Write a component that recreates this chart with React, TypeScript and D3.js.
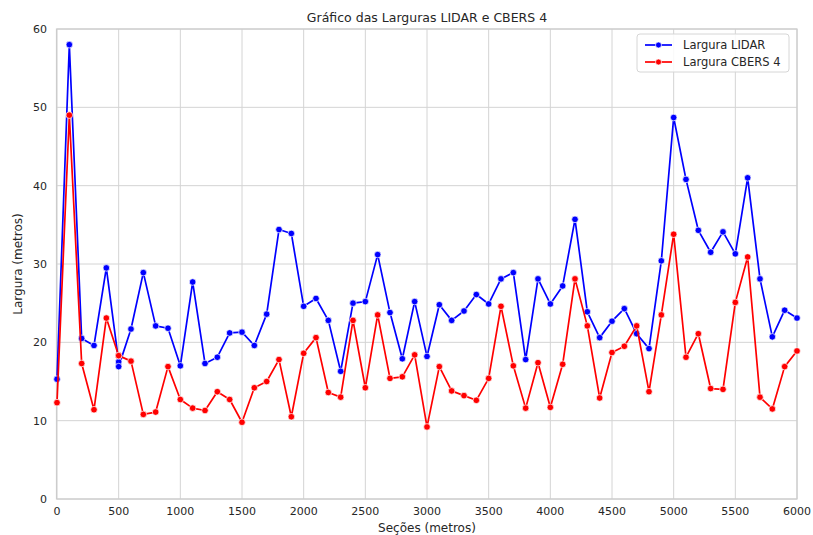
import * as d3 from 'd3';
import React, { useEffect, useRef } from 'react';

// Seções (metros) - há duas leituras em 500
const secoes = [
  0, 100, 200, 300, 400, 500, 500, 600, 700, 800, 900, 1000, 1100, 1200, 1300,
  1400, 1500, 1600, 1700, 1800, 1900, 2000, 2100, 2200, 2300, 2400, 2500, 2600,
  2700, 2800, 2900, 3000, 3100, 3200, 3300, 3400, 3500, 3600, 3700, 3800, 3900,
  4000, 4100, 4200, 4300, 4400, 4500, 4600, 4700, 4800, 4900, 5000, 5100, 5200,
  5300, 5400, 5500, 5600, 5700, 5800, 5900, 6000,
];

const larguraLidar = [
  15.3, 58.0, 20.5, 19.6, 29.5, 17.5, 16.9, 21.7, 28.9, 22.1, 21.8, 17.0, 27.7,
  17.3, 18.1, 21.2, 21.3, 19.6, 23.6, 34.4, 33.9, 24.6, 25.6, 22.8, 16.3, 25.0,
  25.2, 31.2, 23.8, 17.9, 25.2, 18.2, 24.8, 22.8, 24.0, 26.1, 24.9, 28.1, 28.9,
  17.8, 28.1, 24.9, 27.2, 35.7, 23.9, 20.6, 22.7, 24.3, 21.1, 19.2, 30.4, 48.7,
  40.8, 34.3, 31.5, 34.1, 31.3, 41.0, 28.1, 20.7, 24.1, 23.1,
];

const larguraCbers = [
  12.3, 49.0, 17.3, 11.4, 23.1, 18.3, 18.3, 17.6, 10.8, 11.1, 16.9, 12.7, 11.6,
  11.3, 13.7, 12.7, 9.8, 14.2, 15.0, 17.8, 10.5, 18.6, 20.6, 13.6, 13.0, 22.8,
  14.2, 23.5, 15.4, 15.6, 18.4, 9.2, 16.9, 13.8, 13.2, 12.6, 15.4, 24.6, 17.0,
  11.6, 17.4, 11.7, 17.2, 28.1, 22.1, 12.9, 18.7, 19.5, 22.1, 13.7, 23.5, 33.8,
  18.1, 21.1, 14.1, 14.0, 25.1, 30.9, 13.0, 11.5, 16.9, 18.9,
];

const xTicks = [0, 500, 1000, 1500, 2000, 2500, 3000, 3500, 4000, 4500, 5000, 5500, 6000];
const yTicks = [0, 10, 20, 30, 40, 50, 60];

const series = [
  { nome: 'Largura LIDAR', cor: 'blue', valores: larguraLidar },
  { nome: 'Largura CBERS 4', cor: 'red', valores: larguraCbers },
];

const App: React.FC = () => {
  const ref = useRef<SVGSVGElement | null>(null);

  useEffect(() => {
    if (!ref.current) return;
    const svg = d3.select(ref.current);
    svg.selectAll('*').remove();

    const W = 813;
    const H = 535;
    const margin = { top: 29, right: 16, bottom: 36, left: 57 };
    const font = 'DejaVu Sans, sans-serif';
    const textColor = '#262626';
    const gridColor = '#d4d4d4';

    const x = d3.scaleLinear().domain([0, 6000]).range([margin.left, W - margin.right]);
    const y = d3.scaleLinear().domain([0, 60]).range([H - margin.bottom, margin.top]);

    svg.append('rect').attr('width', W).attr('height', H).attr('fill', '#fff');

    // grade
    const grid = svg.append('g');
    grid
      .selectAll('line.vx')
      .data(xTicks)
      .enter()
      .append('line')
      .attr('x1', (d) => x(d))
      .attr('x2', (d) => x(d))
      .attr('y1', y(0))
      .attr('y2', y(60))
      .attr('stroke', gridColor)
      .attr('stroke-width', 1);
    grid
      .selectAll('line.hy')
      .data(yTicks)
      .enter()
      .append('line')
      .attr('x1', x(0))
      .attr('x2', x(6000))
      .attr('y1', (d) => y(d))
      .attr('y2', (d) => y(d))
      .attr('stroke', gridColor)
      .attr('stroke-width', 1);

    // moldura
    svg
      .append('rect')
      .attr('x', x(0) - 0.5)
      .attr('y', y(60))
      .attr('width', x(6000) - x(0) + 0.5)
      .attr('height', y(0) - y(60))
      .attr('fill', 'none')
      .attr('stroke', '#cccccc')
      .attr('stroke-width', 1.2);

    // rótulos dos ticks
    svg
      .append('g')
      .selectAll('text')
      .data(xTicks)
      .enter()
      .append('text')
      .attr('x', (d) => x(d))
      .attr('y', y(0) + 16)
      .attr('text-anchor', 'middle')
      .attr('font-family', font)
      .attr('font-size', 11)
      .attr('fill', textColor)
      .text((d) => d);

    svg
      .append('g')
      .selectAll('text')
      .data(yTicks)
      .enter()
      .append('text')
      .attr('x', x(0) - 10)
      .attr('y', (d) => y(d))
      .attr('dy', '0.35em')
      .attr('text-anchor', 'end')
      .attr('font-family', font)
      .attr('font-size', 11)
      .attr('fill', textColor)
      .text((d) => d);

    // linhas e marcadores
    series.forEach((s) => {
      const pts = secoes.map((sec, i) => [sec, s.valores[i]] as [number, number]);
      const line = d3
        .line<[number, number]>()
        .x((d) => x(d[0]))
        .y((d) => y(d[1]));
      svg
        .append('path')
        .datum(pts)
        .attr('fill', 'none')
        .attr('stroke', s.cor)
        .attr('stroke-width', 1.7)
        .attr('stroke-linejoin', 'round')
        .attr('d', line);
      svg
        .append('g')
        .selectAll('circle')
        .data(pts)
        .enter()
        .append('circle')
        .attr('cx', (d) => x(d[0]))
        .attr('cy', (d) => y(d[1]))
        .attr('r', 3.3)
        .attr('fill', s.cor)
        .attr('stroke', '#fff')
        .attr('stroke-width', 0.7);
    });

    // título e eixos
    svg
      .append('text')
      .attr('x', (x(0) + x(6000)) / 2)
      .attr('y', 22)
      .attr('text-anchor', 'middle')
      .attr('font-family', font)
      .attr('font-size', 12.5)
      .attr('fill', textColor)
      .text('Gráfico das Larguras LIDAR e CBERS 4');

    svg
      .append('text')
      .attr('x', (x(0) + x(6000)) / 2)
      .attr('y', 532)
      .attr('text-anchor', 'middle')
      .attr('font-family', font)
      .attr('font-size', 12)
      .attr('fill', textColor)
      .text('Seções (metros)');

    svg
      .append('text')
      .attr('transform', `translate(22, ${(y(0) + y(60)) / 2}) rotate(-90)`)
      .attr('text-anchor', 'middle')
      .attr('font-family', font)
      .attr('font-size', 12)
      .attr('fill', textColor)
      .text('Largura (metros)');

    // legenda
    const lg = svg.append('g').attr('transform', 'translate(637, 34)');
    lg.append('rect')
      .attr('width', 152)
      .attr('height', 38)
      .attr('rx', 3)
      .attr('fill', 'rgba(255,255,255,0.85)')
      .attr('stroke', '#d6d6d6');
    series.forEach((s, i) => {
      const cy = 11 + i * 17;
      lg.append('line')
        .attr('x1', 8)
        .attr('x2', 35)
        .attr('y1', cy)
        .attr('y2', cy)
        .attr('stroke', s.cor)
        .attr('stroke-width', 1.7);
      lg.append('circle')
        .attr('cx', 21.5)
        .attr('cy', cy)
        .attr('r', 3)
        .attr('fill', s.cor)
        .attr('stroke', '#fff')
        .attr('stroke-width', 0.7);
      lg.append('text')
        .attr('x', 46)
        .attr('y', cy)
        .attr('dy', '0.35em')
        .attr('font-family', font)
        .attr('font-size', 11.5)
        .attr('fill', textColor)
        .text(s.nome);
    });
  }, []);

  return (
    <svg
      ref={ref}
      width={813}
      height={535}
      style={{ position: 'absolute', left: 0, top: 0, display: 'block' }}
    />
  );
};

export default App;
